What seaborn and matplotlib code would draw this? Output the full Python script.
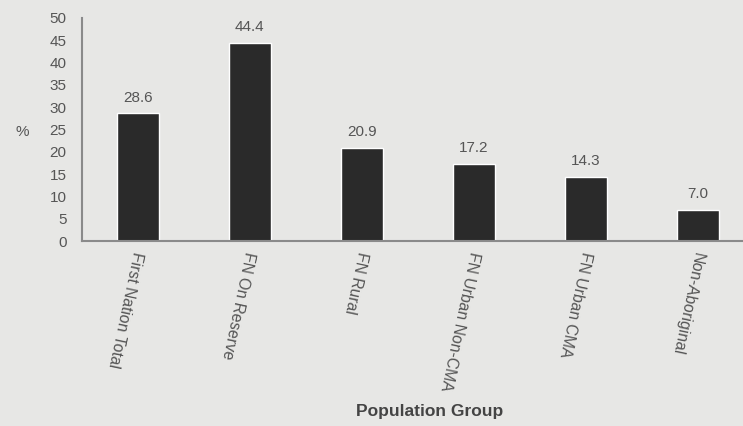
import matplotlib
matplotlib.use("Agg")
import matplotlib.pyplot as plt
import seaborn as sns
import pandas as pd

groups = ["First Nation Total", "FN On Reserve", "FN Rural",
          "FN Urban Non-CMA", "FN Urban CMA", "Non-Aboriginal"]
values = [28.6, 44.4, 20.9, 17.2, 14.3, 7.0]
y_ticks = [0, 5, 10, 15, 20, 25, 30, 35, 40, 45, 50]

df = pd.DataFrame({"group": groups, "value": values})

sns.set_style("white")
plt.rcParams['font.family'] = ['Liberation Sans', 'DejaVu Sans']

bg = "#e7e7e5"
txt = "#555555"
fig = plt.figure(figsize=(7.43, 4.26), dpi=100, facecolor=bg)
ax = fig.add_axes([0.110, 0.434, 0.905, 0.524])
ax.set_facecolor(bg)

sns.barplot(data=df, x="group", y="value", color="#2a2a2a", width=0.375,
            saturation=1, ax=ax)

for i, v in enumerate(values):
    ax.text(i, v + 2.0, f"{v:.1f}", ha="center", va="bottom", fontsize=11, color=txt)

ax.set_ylim(0, 50)
ax.set_xlim(-0.5, 5.5)
ax.set_yticks(y_ticks)
ax.set_yticklabels([str(t) for t in y_ticks], fontsize=11, color=txt)
ax.tick_params(axis="y", length=0, pad=11)
ax.tick_params(axis="x", length=0, pad=8)
ax.set_xticks(range(len(groups)))
ax.set_xticklabels(groups, fontsize=11.3, color=txt, rotation=-102,
                   rotation_mode="anchor", ha="left", va="center")

for s in ["top", "right"]:
    ax.spines[s].set_visible(False)
for s in ["left", "bottom"]:
    ax.spines[s].set_color("#8a8a8a")
    ax.spines[s].set_linewidth(1.5)

ax.set_ylabel("%", rotation=0, fontsize=11, color=txt, labelpad=0, va="center")
ax.yaxis.set_label_coords(-0.088, 0.49)
ax.set_xlabel("")
fig.text(0.578, 0.035, "Population Group", ha="center", va="center",
         fontsize=12.5, fontweight="bold", color="#444444")

fig.savefig("out.png", dpi=100, facecolor=bg)
